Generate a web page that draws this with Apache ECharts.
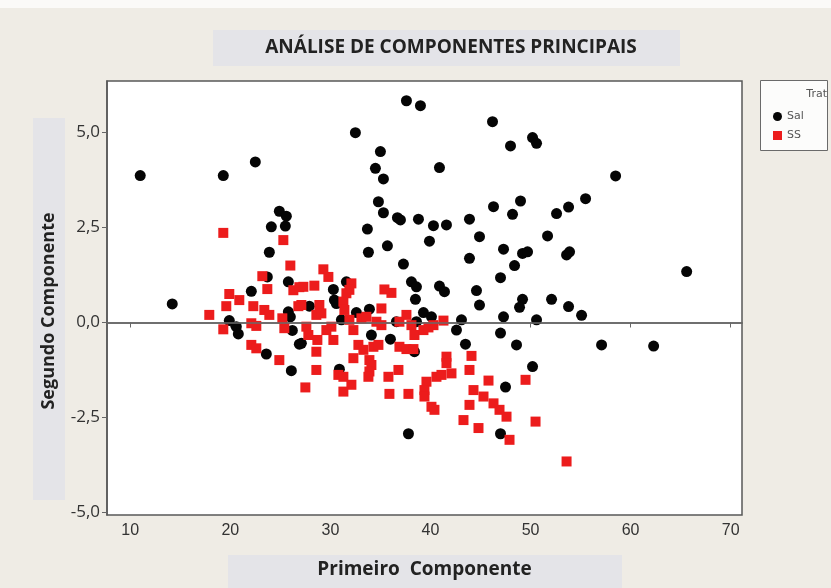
<!DOCTYPE html>
<html>
<head>
<meta charset="utf-8">
<script src="https://cdn.jsdelivr.net/npm/echarts@6/dist/echarts.min.js"></script>
<style>
html,body{margin:0;padding:0;background:#efece5;}
#c{width:831px;height:588px;}
</style>
</head>
<body>
<div id="c"></div>
<script>
const titleText = 'ANÁLISE DE COMPONENTES PRINCIPAIS';
const xName = 'Primeiro  Componente';
const yName = 'Segundo Componente';
const legendTitle = 'Trat';
const seriesNames = ['Sal', 'SS'];
const xTicks = [10, 20, 30, 40, 50, 60, 70];
const yTicks = [-5, -2.5, 0, 2.5, 5];
const xRange = [7.68, 71.13];
const yRange = [-5.07, 6.36];

const salPoints = [
[11.0,3.87],[19.3,3.87],[22.5,4.23],[24.9,2.93],[25.6,2.80],[24.1,2.52],[25.5,2.54],[23.9,1.85],[23.7,1.20],[25.8,1.07],[22.1,0.82],[14.2,0.49],
[19.9,0.05],[20.6,-0.11],[20.8,-0.30],[23.6,-0.83],[26.1,-1.27],[26.9,-0.57],[26.2,-0.21],[25.8,0.28],[26.0,0.15],[27.9,0.43],
[37.6,5.84],[39.0,5.71],[46.2,5.29],[48.0,4.65],[32.5,5.0],[35.0,4.5],[34.5,4.06],[35.3,3.78],[40.9,4.08],[34.8,3.18],[35.3,2.89],
[36.7,2.76],[37.0,2.70],[38.8,2.72],[40.3,2.55],[41.6,2.57],[43.9,2.72],[46.3,3.05],[48.2,2.85],[33.7,2.46],[44.9,2.26],[35.7,2.02],
[39.9,2.14],[33.8,1.85],[47.3,1.93],[43.9,1.69],[48.4,1.50],[37.3,1.54],[47.0,1.18],[38.1,1.07],[38.6,0.94],[40.9,0.96],[41.4,0.81],
[44.6,0.84],[30.3,0.87],[31.6,1.07],
[44.9,0.46],[47.3,0.15],[47.0,-0.28],[48.6,-0.59],[38.5,0.61],[30.4,0.59],[30.6,0.50],[33.9,0.35],[32.6,0.26],[31.1,0.07],[39.3,0.26],
[40.1,0.15],[36.6,0.02],[38.6,0.02],[43.1,0.07],[42.6,-0.20],[43.5,-0.57],[34.1,-0.33],[36.0,-0.44],[38.4,-0.77],[27.1,-0.55],[30.9,-1.23],
[47.5,-1.70],[37.8,-2.93],[47.0,-2.93],
[49.2,1.82],[49.7,1.86],[53.6,1.78],[53.9,1.86],[49.2,0.61],[48.9,0.40],[52.1,0.61],[53.8,0.42],[55.1,0.19],[50.6,0.07],[57.1,-0.59],
[62.3,-0.62],[50.2,-1.16],
[50.2,4.87],[50.6,4.72],[58.5,3.86],[49.0,3.20],[52.6,2.87],[53.8,3.04],[55.5,3.26],[51.7,2.28],[65.6,1.34]
];

const ssPoints = [
[19.3,2.36],[25.3,2.17],[26.0,1.50],[23.2,1.22],[23.7,0.88],[26.3,0.85],[26.9,0.93],[28.4,0.97],[19.9,0.75],[20.9,0.59],[19.6,0.43],
[22.3,0.43],[17.9,0.20],[19.3,-0.18],[22.1,-0.02],[22.6,-0.09],[23.4,0.33],[23.9,0.20],[22.1,-0.59],[22.6,-0.68],[24.9,-0.99],[25.2,0.11],
[25.4,-0.15],[26.8,0.43],[27.6,-0.11],[27.8,-0.33],[28.6,0.20],[28.7,-0.46],[28.6,-0.77],[28.6,-1.25],[27.5,-1.71],
[29.3,1.40],[29.8,1.20],[27.3,0.94],[32.1,1.03],[31.9,0.86],[35.4,0.87],[36.1,0.78],
[27.1,0.46],[31.6,0.77],[31.3,0.55],[31.4,0.33],[28.9,0.46],[29.1,0.24],[35.1,0.37],[33.1,0.11],[33.6,0.15],[34.6,0.02],[35.1,-0.07],
[31.9,0.07],[32.3,-0.20],[30.1,-0.11],[29.6,-0.20],[30.3,-0.46],[32.8,-0.59],[33.3,-0.72],[34.3,-0.64],[34.8,-0.59],[33.9,-0.99],
[34.1,-1.12],[32.3,-0.94],[36.9,0.02],[37.6,0.20],[38.1,-0.07],[38.4,-0.33],[39.3,-0.20],[39.8,-0.13],[40.3,-0.07],[41.3,0.05],
[36.9,-0.64],[37.6,-0.70],[38.3,-0.70],[33.9,-1.29],[33.8,-1.43],[35.8,-1.43],[36.8,-1.25],[30.8,-1.38],[31.3,-1.43],[32.1,-1.64],
[31.3,-1.82],[35.9,-1.88],[37.8,-1.88],[39.6,-1.56],[39.4,-1.78],[39.4,-1.95],[40.6,-1.43],[41.1,-1.38],[41.6,-0.90],[41.6,-1.07],
[42.1,-1.34],[40.1,-2.22],[40.4,-2.30],[44.1,-0.88],[43.9,-1.25],[45.8,-1.53],[44.3,-1.78],[45.3,-1.95],[43.9,-2.17],[46.3,-2.13],
[46.9,-2.30],[47.6,-2.48],[43.3,-2.57],[44.8,-2.78],[47.9,-3.09],[49.5,-1.51],[50.5,-2.61],[53.6,-3.66]
];

const chart = echarts.init(document.getElementById('c'), null, {renderer: 'canvas'});
const fmt = v => (Math.round(v * 10) / 10).toFixed(1).replace('.', ',');

chart.setOption({
  backgroundColor: '#efece5',
  animation: false,
  graphic: [
    {type: 'rect', shape: {x: 0, y: 0, width: 831, height: 8}, style: {fill: '#fbfaf8'}, z: -10},
    {type: 'rect', shape: {x: 213, y: 30, width: 467, height: 36}, style: {fill: '#e4e4e8'}, z: -5},
    {type: 'rect', shape: {x: 33, y: 118, width: 32, height: 382}, style: {fill: '#e4e4e8'}, z: -5},
    {type: 'rect', shape: {x: 228, y: 555, width: 394, height: 33}, style: {fill: '#e4e4e8'}, z: -5},
    {type: 'rect', shape: {x: 760.5, y: 80.5, width: 67, height: 70}, style: {fill: '#fcfcfb', stroke: '#6a6a6a', lineWidth: 1}, z: -5},
    {type: 'text', right: 4, top: 89, style: {text: legendTitle, fill: '#555', font: '11px "DejaVu Sans"'}},
    {type: 'text', x: 49, y: 311, rotation: Math.PI / 2,
     style: {text: yName, fill: '#222', font: 'bold 18px "Open Sans"', textAlign: 'center', textVerticalAlign: 'middle'}}
  ],
  title: {
    text: titleText, left: 446, top: 33, textAlign: 'center',
    textStyle: {fontFamily: 'Open Sans', fontWeight: 'bold', fontSize: 19, color: '#222'}
  },
  legend: {
    orient: 'vertical', left: 768, top: 106, itemGap: 8, itemWidth: 9, itemHeight: 9,
    textStyle: {fontFamily: 'DejaVu Sans', fontSize: 11, color: '#555'},
    data: [{name: seriesNames[0], icon: 'circle'}, {name: seriesNames[1], icon: 'rect'}]
  },
  grid: {
    left: 107, top: 81, right: 89, bottom: 73,
    show: true, backgroundColor: '#ffffff', borderColor: '#585858', borderWidth: 1.5
  },
  xAxis: {
    type: 'value', min: xRange[0], max: xRange[1],
    name: xName, nameLocation: 'middle', nameGap: 45,
    nameTextStyle: {fontFamily: 'Open Sans', fontWeight: 'bold', fontSize: 19, color: '#222'},
    splitLine: {show: false},
    axisLine: {show: true, lineStyle: {color: '#585858', width: 1.5}},
    axisTick: {show: true, length: 5, lineStyle: {color: '#666'}, customValues: xTicks},
    axisLabel: {customValues: xTicks, margin: 8, fontFamily: 'Liberation Sans Narrow, Liberation Sans', fontSize: 16, color: '#333', formatter: v => String(Math.round(v))}
  },
  yAxis: {
    type: 'value', min: yRange[0], max: yRange[1],
    splitLine: {show: false},
    axisLine: {show: true, lineStyle: {color: '#585858', width: 1.5}},
    axisTick: {show: true, length: 5, lineStyle: {color: '#666'}, customValues: yTicks},
    axisLabel: {customValues: yTicks, margin: 7, fontFamily: 'Open Sans', fontSize: 17, color: '#333', formatter: fmt}
  },
  series: [
    {
      name: seriesNames[0], type: 'scatter', data: salPoints, symbol: 'circle', symbolSize: 11,
      itemStyle: {color: '#050505', opacity: 1}, z: 3,
      markLine: {
        silent: true, symbol: 'none', label: {show: false},
        lineStyle: {color: '#6a6a6a', width: 1.5, type: 'solid'},
        data: [{yAxis: 0}]
      }
    },
    {
      name: seriesNames[1], type: 'scatter', data: ssPoints, symbol: 'rect', symbolSize: 10,
      itemStyle: {color: '#ec1c1c', opacity: 1}, z: 4
    }
  ]
});
</script>
</body>
</html>
